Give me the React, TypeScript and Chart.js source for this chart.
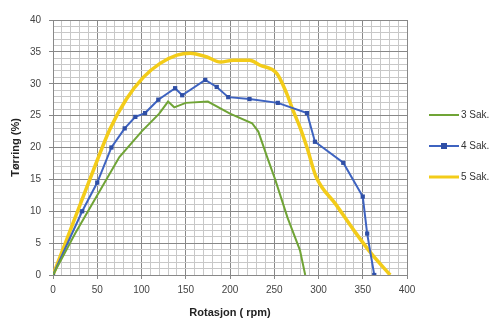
import React, { useEffect, useRef } from "react";
import { Chart, registerables } from "chart.js";

Chart.register(...registerables);

const seriesNames = ["3 Sak.", "4 Sak.", "5 Sak."];

const greenX = [0, 25, 50, 75, 100, 120, 130, 137, 150, 175, 200, 225, 232, 242, 251, 265, 279, 285];
const greenY = [0, 6.5, 12.5, 18.5, 22.5, 25.3, 27.2, 26.3, 27.0, 27.2, 25.3, 23.8, 22.5, 18.5, 15, 9, 3.9, 0];

const blueX = [0, 33, 50, 66, 81, 93, 104, 119, 138, 146, 172, 185, 198, 222, 254, 287, 296, 328, 350, 355, 363];
const blueY = [0, 10, 14.5, 20, 23, 24.8, 25.4, 27.5, 29.3, 28.2, 30.6, 29.5, 27.9, 27.6, 27, 25.4, 20.9, 17.6, 12.3, 6.5, 0];

const yellowX = [0, 25, 50, 64, 83, 102, 121, 140, 155, 174, 189, 204, 222, 234, 253, 264, 271, 279, 287, 297, 320, 340, 360, 381];
const yellowY = [0, 9, 18, 22.8, 27.6, 31, 33.2, 34.5, 34.8, 34.2, 33.4, 33.7, 33.7, 32.9, 31.6, 28.5, 25.9, 23.2, 20, 15.5, 11, 7, 3.3, 0];

const xTickLabels = [0, 50, 100, 150, 200, 250, 300, 350, 400];
const yTickLabels = [0, 5, 10, 15, 20, 25, 30, 35, 40];

const colors = ["#70a436", "#3e63c0", "#f3cc19"];
const FONT = "'Liberation Sans', Arial, sans-serif";

const toPts = (xs: number[], ys: number[]) => xs.map((x, i) => ({ x, y: ys[i] }));

const legendPlugin = {
  id: "customLegend",
  afterDraw(chart: any) {
    const ctx = chart.ctx;
    const ys = [115, 146, 177];
    ctx.save();
    seriesNames.forEach((name, i) => {
      const y = ys[i];
      ctx.strokeStyle = colors[i];
      ctx.lineWidth = i === 2 ? 3 : 2;
      ctx.beginPath();
      ctx.moveTo(429, y);
      ctx.lineTo(459, y);
      ctx.stroke();
      if (i === 1) {
        ctx.fillStyle = "#2f4fa6";
        ctx.fillRect(441, y - 3, 6, 6);
      }
      ctx.fillStyle = "#333";
      ctx.font = "10px " + FONT;
      ctx.textBaseline = "middle";
      ctx.textAlign = "left";
      ctx.fillText(name, 461, y);
    });
    ctx.restore();
  },
};

export default function App() {
  const ref = useRef<HTMLCanvasElement>(null);
  useEffect(() => {
    if (!ref.current) return;
    const chart = new Chart(ref.current, {
      type: "line",
      data: {
        datasets: [
          {
            label: seriesNames[0],
            data: toPts(greenX, greenY),
            borderColor: colors[0],
            backgroundColor: colors[0],
            borderWidth: 2,
            pointRadius: 0,
            tension: 0,
          },
          {
            label: seriesNames[1],
            data: toPts(blueX, blueY),
            borderColor: colors[1],
            backgroundColor: "#2f4fa6",
            borderWidth: 2,
            pointRadius: 3,
            pointStyle: "rect",
            pointBorderWidth: 0,
            tension: 0,
          },
          {
            label: seriesNames[2],
            data: toPts(yellowX, yellowY),
            borderColor: colors[2],
            backgroundColor: colors[2],
            borderWidth: 3.5,
            pointRadius: 0,
            cubicInterpolationMode: "monotone",
          },
        ],
      },
      options: {
        animation: false,
        responsive: false,
        devicePixelRatio: 1,
        layout: { padding: { top: 20, right: 95, left: 0, bottom: 0 } },
        plugins: { legend: { display: false }, tooltip: { enabled: false } },
        scales: {
          x: {
            type: "linear",
            min: 0,
            max: 400,
            afterFit: (s: any) => {
              s.height = 45;
            },
            afterBuildTicks: (s: any) => {
              const t = [];
              for (let v = 0; v <= 400; v += 10) t.push({ value: v });
              s.ticks = t;
            },
            ticks: {
              autoSkip: false,
              maxRotation: 0,
              padding: 5,
              color: "#444",
              font: { size: 10, family: FONT },
              callback: (v: any) => (xTickLabels.includes(Number(v)) ? String(v) : ""),
            },
            grid: {
              color: (c: any) => (c.tick && c.tick.value % 50 === 0 ? "#888888" : "#c8c8c8"),
              tickColor: (c: any) => (c.tick && c.tick.value % 50 === 0 ? "#888888" : "rgba(0,0,0,0)"),
              tickLength: 4,
            },
            border: { color: "#888888" },
            title: {
              display: true,
              text: "Rotasjon ( rpm)",
              color: "#222",
              font: { size: 11, weight: "bold", family: FONT },
              padding: { top: 2, bottom: 0 },
            },
          },
          y: {
            type: "linear",
            min: 0,
            max: 40,
            afterFit: (s: any) => {
              s.width = 53;
            },
            afterBuildTicks: (s: any) => {
              const t = [];
              for (let v = 0; v <= 40; v += 1) t.push({ value: v });
              s.ticks = t;
            },
            ticks: {
              autoSkip: false,
              padding: 8,
              color: "#444",
              font: { size: 10, family: FONT },
              callback: (v: any) => (yTickLabels.includes(Number(v)) ? String(v) : ""),
            },
            grid: {
              color: (c: any) => (c.tick && c.tick.value % 5 === 0 ? "#888888" : "#c8c8c8"),
              tickColor: (c: any) => (c.tick && c.tick.value % 5 === 0 ? "#888888" : "rgba(0,0,0,0)"),
              tickLength: 4,
            },
            border: { color: "#888888" },
            title: {
              display: true,
              text: "Tørring (%)",
              color: "#222",
              font: { size: 11, weight: "bold", family: FONT },
              padding: { top: 9, bottom: 0 },
            },
          },
        },
      },
      plugins: [legendPlugin],
    });
    return () => chart.destroy();
  }, []);
  return (
    <div style={{ position: "fixed", left: 0, top: 0, width: 502, height: 320, background: "#fff" }}>
      <canvas ref={ref} width={502} height={320} style={{ width: 502, height: 320, display: "block" }} />
    </div>
  );
}
